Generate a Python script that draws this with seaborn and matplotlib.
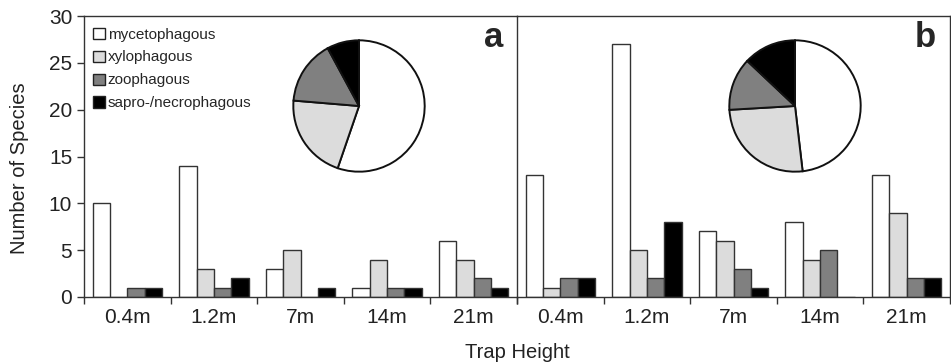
import pandas as pd
import matplotlib
matplotlib.use('Agg')
import matplotlib.pyplot as plt
import seaborn as sns
from matplotlib.ticker import FixedLocator

# Daten
heights = ['0.4m', '1.2m', '7m', '14m', '21m']
guilds = ['mycetophagous', 'xylophagous', 'zoophagous', 'sapro-/necrophagous']

panel_a = {
    'mycetophagous': [10, 14, 3, 1, 6],
    'xylophagous': [0, 3, 5, 4, 4],
    'zoophagous': [1, 1, 0, 1, 2],
    'sapro-/necrophagous': [1, 2, 1, 1, 1],
}
panel_b = {
    'mycetophagous': [13, 27, 7, 8, 13],
    'xylophagous': [1, 5, 6, 4, 9],
    'zoophagous': [2, 2, 3, 5, 2],
    'sapro-/necrophagous': [2, 8, 1, 0, 2],
}
pie_a = [21, 8, 6, 3]
pie_b = [26, 14, 7, 7]

colors = ['#ffffff', '#dcdcdc', '#808080', '#000000']
linie = '#333333'


def to_long(d):
    rows = []
    for g in guilds:
        for h, v in zip(heights, d[g]):
            rows.append({'height': h, 'guild': g, 'n': v})
    return pd.DataFrame(rows)


sns.set_style('white')
plt.rcParams['font.family'] = ['Liberation Sans', 'DejaVu Sans']

fig = plt.figure(figsize=(9.51, 3.64), dpi=100)
ax_a = fig.add_axes([84 / 951, 1 - 297 / 364, 433 / 951, 281 / 364])
ax_b = fig.add_axes([517 / 951, 1 - 297 / 364, 433 / 951, 281 / 364])
ax_b.patch.set_alpha(0)

for ax, d, label in [(ax_a, panel_a, 'a'), (ax_b, panel_b, 'b')]:
    sns.barplot(data=to_long(d), x='height', y='n', hue='guild', hue_order=guilds,
                palette=colors, width=0.8, edgecolor=linie, linewidth=1.0,
                saturation=1, ax=ax, legend=(ax is ax_a))
    ax.set_xlim(-0.5, 4.5)
    ax.set_ylim(0, 30)
    ax.set_xlabel('')
    ax.set_ylabel('')
    ax.xaxis.set_minor_locator(FixedLocator([-0.5, 0.5, 1.5, 2.5, 3.5, 4.5]))
    ax.tick_params(axis='x', which='major', length=0, labelsize=15, pad=8, colors='#222222')
    ax.tick_params(axis='x', which='minor', bottom=True, length=5, width=1, direction='out', color=linie)
    for sp in ax.spines.values():
        sp.set_color(linie)
        sp.set_linewidth(1)
    ax.text(0.968, 0.925, label, transform=ax.transAxes, ha='right', va='center',
            fontsize=25, fontweight='bold')

ax_a.set_yticks(range(0, 31, 5))
ax_a.tick_params(axis='y', left=True, length=5, width=1, direction='out', color=linie,
                 labelsize=15, colors='#222222')
ax_a.spines['right'].set_visible(False)
ax_b.set_yticks([])

leg = ax_a.legend(loc='upper left', bbox_to_anchor=(0.0, 0.9915), frameon=False, fontsize=11,
                  handlelength=0.75, handleheight=0.75, handletextpad=0.2, labelspacing=0.585,
                  borderaxespad=0.2)
for p in leg.get_patches():
    p.set_edgecolor('#222222')

fig.text(20 / 951, 1 - 168 / 364, 'Number of Species', rotation=90, ha='center', va='center',
         fontsize=14.5, color='#222222')
fig.text(517 / 951, 1 - 352 / 364, 'Trap Height', ha='center', va='center',
         fontsize=14.5, color='#222222')

# Kreisdiagramme als Einsatz
for cx, vals in [(359, pie_a), (795, pie_b)]:
    pax = fig.add_axes([(cx - 67) / 951, (364 - 106 - 67) / 364, 134 / 951, 134 / 364])
    pax.pie(vals, colors=colors, startangle=90, counterclock=False,
            wedgeprops={'edgecolor': '#111111', 'linewidth': 1.4})
    pax.set_xlim(-1.02, 1.02)
    pax.set_ylim(-1.02, 1.02)
    pax.set_aspect('equal')
    pax.axis('off')

fig.savefig('out.png', dpi=100)
